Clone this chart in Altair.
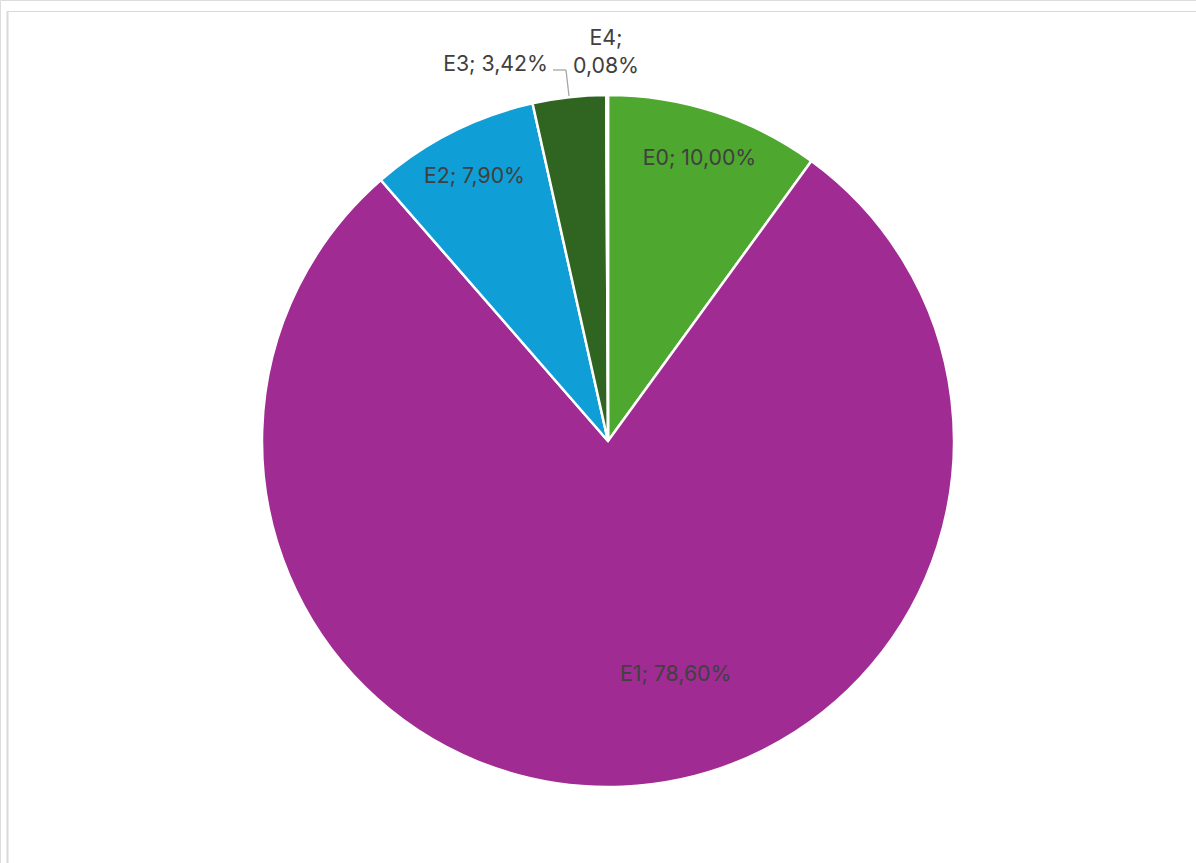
import altair as alt
import pandas as pd

categories = ["E0", "E1", "E2", "E3", "E4"]
values = [10.00, 78.60, 7.90, 3.42, 0.08]
colors = ["#4ea72e", "#a02b93", "#0f9ed5", "#2f6421", "#e97132"]

labels = [f"{c}; {v:.2f}%".replace(".", ",") for c, v in zip(categories, values)]
labels[4] = labels[4].replace("; ", ";\n")

df = pd.DataFrame({
    "cat": categories,
    "value": values,
    "idx": list(range(len(categories))),
    "label": labels,
})

CX, CY, R = 608, 441, 346
FONT = "Inter"
TXT = "#404040"

base = alt.Chart(df).encode(
    theta=alt.Theta("value:Q", stack=True, scale=alt.Scale(range=[0, 6.283185307])),
    order=alt.Order("idx:Q"),
)

pie = base.mark_arc(x=CX, y=CY, outerRadius=R, stroke="white", strokeWidth=2.5).encode(
    color=alt.Color("cat:N", scale=alt.Scale(domain=categories, range=colors), legend=None)
)


def label_layer(cats, radius, dx=0, dy=0):
    return base.mark_text(
        x=CX, y=CY, radius=radius, dx=dx, dy=dy, font=FONT, fontSize=21.3,
        color=TXT, align="center", baseline="middle", lineBreak="\n", lineHeight=28.5,
    ).encode(
        text=alt.condition(
            alt.FieldOneOfPredicate(field="cat", oneOf=cats), "label:N", alt.value("")
        )
    )


lab_in = label_layer(["E0", "E2"], 296)
lab_e1 = label_layer(["E1"], 244, dx=57, dy=-10)
lab_e3 = label_layer(["E3"], 378, dx=-70, dy=0)
lab_e4 = label_layer(["E4"], 390, dx=-1, dy=-12.5)

lead_df = pd.DataFrame({"k": [0]})
lead1 = alt.Chart(lead_df).mark_rule(color="#a6a6a6", strokeWidth=1.3).encode(
    x=alt.value(569), y=alt.value(96), x2=alt.value(566), y2=alt.value(70)
)
lead2 = alt.Chart(lead_df).mark_rule(color="#a6a6a6", strokeWidth=1.3).encode(
    x=alt.value(566), y=alt.value(70), x2=alt.value(553), y2=alt.value(70)
)
border_top = alt.Chart(lead_df).mark_rule(color="#d9d9d9", strokeWidth=1.2).encode(
    x=alt.value(7), y=alt.value(11.5), x2=alt.value(1196), y2=alt.value(11.5)
)
border_left = alt.Chart(lead_df).mark_rule(color="#d9d9d9", strokeWidth=2).encode(
    x=alt.value(7.5), y=alt.value(11), x2=alt.value(7.5), y2=alt.value(863)
)

chart = alt.layer(
    border_top, border_left, pie, lead1, lead2, lab_in, lab_e1, lab_e3, lab_e4
).properties(
    width=1196, height=863, padding=0,
    autosize=alt.AutoSizeParams(type="none"),
).configure_view(stroke=None).configure(background="white")

chart.save("out.html", embed_options={"renderer": "svg", "actions": False})
